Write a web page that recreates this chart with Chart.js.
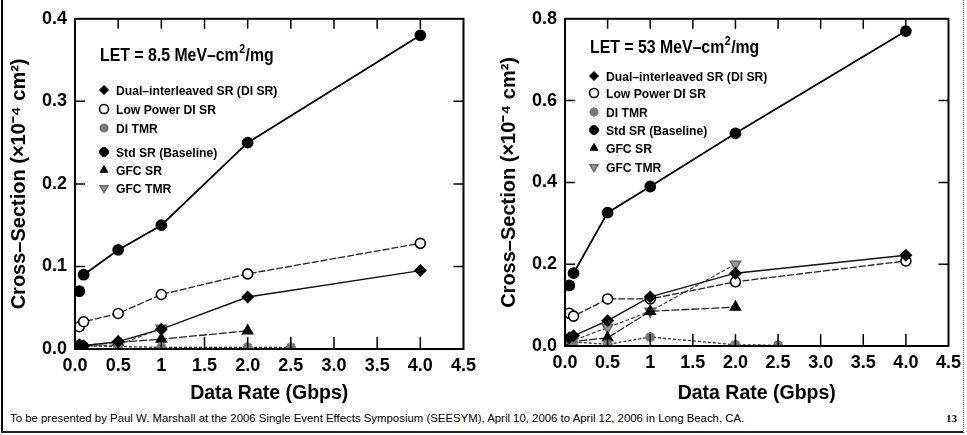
<!DOCTYPE html>
<html lang="en">
<head>
<meta charset="UTF-8">
<title>Cross-Section vs Data Rate</title>
<script src="https://cdn.jsdelivr.net/npm/chart.js"></script>
<style>
    body {
        margin: 0;
        background: #fff;
        width: 967px;
        height: 435px;
        position: relative;
        overflow: hidden;
        font-family: "Liberation Sans Narrow", "Arial Narrow", Arial, sans-serif;
    }
    .frame {
        position: absolute;
        left: 1px; top: -2px;
        width: 960px; height: 433px;
        border-left: 2px solid #000;
        border-bottom: 2px solid #222;
        border-right: 1px dotted #777;
    }
    #leftBox { position: absolute; left: 0; top: 0; width: 482px; height: 405px; }
    #rightBox { position: absolute; left: 482px; top: 0; width: 485px; height: 405px; }
    .footer {
        position: absolute;
        left: 10px; top: 412px;
        font-family: Arial, sans-serif;
        font-size: 11.4px;
        color: #000;
        white-space: nowrap;
    }
    .pageno {
        position: absolute;
        right: 10px; top: 412px;
        font-family: "Liberation Serif", serif;
        font-size: 11px;
        font-weight: bold;
    }
</style>
</head>
<body>
<div class="frame"></div>
<div id="leftBox"><canvas id="leftChart" width="482" height="405"></canvas></div>
<div id="rightBox"><canvas id="rightChart" width="485" height="405"></canvas></div>
<div class="footer">To be presented by Paul W. Marshall at the 2006 Single Event Effects Symposium (SEESYM), April 10, 2006 to April 12, 2006 in Long Beach, CA.</div>
<div class="pageno">13</div>
<script>
// data rates (Gbps) shared by all series; null = not measured
const xRates = [0.05, 0.1, 0.5, 1, 2, 2.5, 4];
const xTickLabels = ['0.0', '0.5', '1', '1.5', '2.0', '2.5', '3.0', '3.5', '4.0', '4.5'];
const seriesNames = ['Dual\u2013interleaved SR (DI SR)', 'Low Power DI SR', 'DI TMR',
                     'Std SR (Baseline)', 'GFC SR', 'GFC TMR'];

// LET = 8.5 MeV-cm2/mg
const diSrA   = [0.005, 0.004, 0.009, 0.024, 0.063, null, 0.095];
const lpDiSrA = [0.027, 0.033, 0.043, 0.066, 0.091, null, 0.128];
const diTmrA  = [0.006, 0.004, 0.003, 0.002, 0.002, 0.002, null];
const stdSrA  = [0.070, 0.090, 0.120, 0.150, 0.250, null, 0.380];
const gfcSrA  = [0.004, null, 0.008, 0.012, 0.022, null, null];
const gfcTmrA = [0.003, null, 0.005, 0.025, null, null, null];

// LET = 53 MeV-cm2/mg
const diSrB   = [0.020, 0.025, 0.062, 0.120, 0.178, null, 0.222];
const lpDiSrB = [0.080, 0.073, 0.115, 0.115, 0.157, null, 0.208];
const diTmrB  = [0.015, 0.010, 0.004, 0.022, 0.003, 0.002, null];
const stdSrB  = [0.148, 0.178, 0.326, 0.390, 0.520, null, 0.770];
const gfcSrB  = [0.010, null, 0.020, 0.085, 0.095, null, null];
const gfcTmrB = [0.010, null, 0.045, 0.085, 0.200, null, null];

const FONT = '"Liberation Sans Narrow", "Arial Narrow", Arial, sans-serif';
Chart.defaults.font.family = FONT;
Chart.defaults.color = '#000';

// marker + line look per series, same order as seriesNames
const looks = [
    { pointStyle: 'rectRot', pointRadius: 5.5, pointBackgroundColor: '#000', pointBorderColor: '#000', borderColor: '#111', borderWidth: 1.4 },
    { pointStyle: 'circle', pointRadius: 5, pointBackgroundColor: '#fff', pointBorderColor: '#000', pointBorderWidth: 1.6, borderColor: '#222', borderWidth: 1.3, borderDash: [7, 2] },
    { pointStyle: 'star', pointRadius: 5, pointBackgroundColor: '#777', pointBorderColor: '#777', pointBorderWidth: 3, borderColor: '#333', borderWidth: 1.3, borderDash: [3, 2] },
    { pointStyle: 'circle', pointRadius: 5, pointBackgroundColor: '#000', pointBorderColor: '#000', borderColor: '#000', borderWidth: 1.8 },
    { pointStyle: 'triangle', pointRadius: 6, pointBackgroundColor: '#000', pointBorderColor: '#000', borderColor: '#222', borderWidth: 1.3, borderDash: [8, 2] },
    { pointStyle: 'triangle', pointRotation: 180, pointRadius: 6, pointBackgroundColor: '#999', pointBorderColor: '#666', pointBorderWidth: 1.5, borderColor: '#444', borderWidth: 1.2, borderDash: [4, 2] }
];

function buildSets(valueLists) {
    return valueLists.map((vals, i) => {
        const set = Object.assign({
            label: seriesNames[i],
            data: xRates.map((x, k) => ({ x: x, y: vals[k] })).filter(p => p.y !== null),
            fill: false,
            tension: 0,
            order: i === 3 ? 0 : 1
        }, looks[i]);
        if (i === 3) {
            // lowest-rate baseline point is not joined in the original
            set.segment = { borderColor: ctx => ctx.p0DataIndex === 0 ? 'rgba(0,0,0,0)' : undefined };
        }
        return set;
    });
}

// draw text squeezed horizontally (the slide uses a condensed face)
function narrowText(ctx, text, x, y, squeeze) {
    ctx.save();
    ctx.translate(x, y);
    ctx.scale(squeeze, 1);
    ctx.fillText(text, 0, 0);
    ctx.restore();
    return ctx.measureText(text).width * squeeze;
}

// frame, inward ticks and the in-plot legend
const decorations = {
    id: 'decorations',
    afterDraw(chart, args, opts) {
        const ctx = chart.ctx;
        const a = chart.chartArea;
        const xs = chart.scales.x, ys = chart.scales.y;
        ctx.save();
        ctx.strokeStyle = '#000';
        ctx.lineWidth = 2;
        ctx.strokeRect(a.left, a.top, a.right - a.left, a.bottom - a.top);
        ctx.lineWidth = 1.5;
        xs.ticks.forEach(t => {
            if (t.value <= xs.min || t.value >= xs.max) return;
            const px = xs.getPixelForValue(t.value);
            ctx.beginPath();
            ctx.moveTo(px, a.bottom); ctx.lineTo(px, a.bottom - 12);
            ctx.moveTo(px, a.top); ctx.lineTo(px, a.top + 10);
            ctx.stroke();
        });
        ys.ticks.forEach(t => {
            if (t.value <= ys.min || t.value >= ys.max) return;
            const py = ys.getPixelForValue(t.value);
            ctx.beginPath();
            ctx.moveTo(a.left, py); ctx.lineTo(a.left + 10, py);
            ctx.moveTo(a.right, py); ctx.lineTo(a.right - 10, py);
            ctx.stroke();
        });

        // LET heading with superscript
        ctx.fillStyle = '#000';
        ctx.textBaseline = 'alphabetic';
        const sq = 0.88;
        let x = opts.titleX;
        const base = opts.titleY;
        ctx.font = 'bold 18px ' + FONT;
        x += narrowText(ctx, opts.title[0], x, base, sq);
        ctx.font = 'bold 12px ' + FONT;
        x += narrowText(ctx, '2', x + 0.5, base - 8, sq) + 1;
        ctx.font = 'bold 18px ' + FONT;
        narrowText(ctx, opts.title[1], x, base, sq);

        // legend rows
        ctx.font = 'bold 13.5px ' + FONT;
        ctx.textBaseline = 'middle';
        chart.data.datasets.forEach((ds, i) => {
            const y = opts.rows[i];
            ctx.save();
            ctx.fillStyle = ds.pointBackgroundColor;
            ctx.strokeStyle = ds.pointBorderColor;
            ctx.lineWidth = ds.pointBorderWidth || 1;
            Chart.helpers.drawPoint(ctx, {
                pointStyle: ds.pointStyle,
                rotation: ds.pointRotation || 0,
                radius: 4.5,
                borderWidth: ds.pointBorderWidth || 1
            }, opts.markX, y);
            ctx.restore();
            ctx.fillStyle = '#000';
            narrowText(ctx, ds.label, opts.textX, y + 1, 0.9);
        });
        ctx.restore();
    }
};

function makeChart(id, valueLists, yMax, yStep, box, legend) {
    return new Chart(document.getElementById(id), {
        type: 'line',
        data: { datasets: buildSets(valueLists) },
        options: {
            responsive: false,
            animation: false,
            layout: { padding: { top: box.top, right: box.right, left: 0, bottom: 0 } },
            plugins: {
                legend: { display: false },
                tooltip: { enabled: false },
                decorations: legend
            },
            scales: {
                x: {
                    type: 'linear', min: 0, max: 4.5,
                    grid: { display: false, drawTicks: false },
                    border: { display: false },
                    ticks: {
                        stepSize: 0.5, autoSkip: false, maxRotation: 0, padding: 6,
                        font: { size: 18, weight: 'bold' }, color: '#000',
                        callback: v => xTickLabels[Math.round(v * 2)]
                    },
                    title: {
                        display: true, text: 'Data Rate (Gbps)', color: '#000',
                        font: { size: 19.5, weight: 'bold' }, padding: { top: 1, bottom: 0 }
                    },
                    afterFit: s => { s.height = box.xHeight; }
                },
                y: {
                    min: 0, max: yMax,
                    grid: { display: false, drawTicks: false },
                    border: { display: false },
                    ticks: {
                        stepSize: yStep, padding: 8,
                        font: { size: 18, weight: 'bold' }, color: '#000',
                        callback: v => v.toFixed(1)
                    },
                    title: {
                        display: true, text: 'Cross\u2013Section (\u00d710\u207b\u2074 cm\u00b2)', color: '#000',
                        font: { size: 20, weight: 'bold' }, padding: { top: box.titlePad, bottom: 0 }
                    },
                    afterFit: s => { s.width = box.yWidth; }
                }
            }
        },
        plugins: [decorations]
    });
}

makeChart('leftChart', [diSrA, lpDiSrA, diTmrA, stdSrA, gfcSrA, gfcTmrA], 0.4, 0.1,
    { top: 17, right: 18, xHeight: 56, yWidth: 75, titlePad: 7 },
    { title: ['LET = 8.5 MeV\u2013cm', '/mg'], titleX: 100, titleY: 61,
      markX: 104, textX: 116, rows: [90, 109, 128, 152, 170, 188] });

makeChart('rightChart', [diSrB, lpDiSrB, diTmrB, stdSrB, gfcSrB, gfcTmrB], 0.8, 0.2,
    { top: 16, right: 11, xHeight: 59, yWidth: 83, titlePad: 15 },
    { title: ['LET = 53 MeV\u2013cm', '/mg'], titleX: 108, titleY: 53,
      markX: 112, textX: 124, rows: [76, 93, 112, 130, 148, 167] });
</script>
</body>
</html>
